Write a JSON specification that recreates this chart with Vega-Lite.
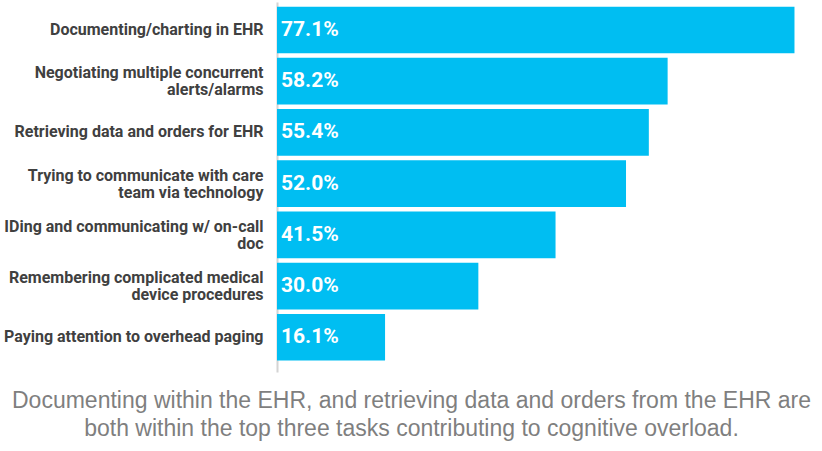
{
  "$schema": "https://vega.github.io/schema/vega-lite/v6.json",
  "autosize": "none",
  "width": 545,
  "height": 370,
  "padding": {"left": 277, "top": 2, "right": 0, "bottom": 79},
  "background": "white",
  "data": {
    "values": [
      {"task": "Documenting/charting in EHR", "pct": 0.771},
      {"task": "Negotiating multiple concurrent|alerts/alarms", "pct": 0.582},
      {"task": "Retrieving data and orders for EHR", "pct": 0.554},
      {"task": "Trying to communicate with care|team via technology", "pct": 0.520},
      {"task": "IDing and communicating w/ on-call|doc", "pct": 0.415},
      {"task": "Remembering complicated medical|device procedures", "pct": 0.300},
      {"task": "Paying attention to overhead paging", "pct": 0.161}
    ]
  },
  "title": {
    "text": ["Documenting within the EHR, and retrieving data and orders from the EHR are", "both within the top three tasks contributing to cognitive overload."],
    "orient": "bottom",
    "anchor": "middle",
    "frame": "group",
    "dx": -138,
    "font": "Liberation Sans",
    "fontSize": 23,
    "fontWeight": "normal",
    "color": "#7f7f7f",
    "lineHeight": 28,
    "offset": 18,
    "baseline": "top"
  },
  "encoding": {
    "y": {
      "field": "task",
      "type": "nominal",
      "sort": null,
      "scale": {"paddingInner": 0.088, "paddingOuter": 0.157, "align": 0.29},
      "axis": {
        "title": null,
        "ticks": false,
        "domain": true,
        "domainColor": "#d4d4d4",
        "domainWidth": 2,
        "labelExpr": "split(datum.value, '|')",
        "labelFont": "Roboto",
        "labelFontWeight": "bold",
        "labelFontSize": 16,
        "labelColor": "#404040",
        "labelLineHeight": 17,
        "labelPadding": 14,
        "labelLimit": 300,
        "labelOffset": {"condition": {"test": "indexof(datum.value, '|') >= 0", "value": -8}, "value": 0}
      }
    },
    "x": {
      "field": "pct",
      "type": "quantitative",
      "scale": {"domain": [0, 0.812], "nice": false, "zero": true},
      "axis": null
    }
  },
  "layer": [
    {"mark": {"type": "bar", "color": "#00BEF2"}},
    {
      "mark": {"type": "text", "align": "left", "baseline": "middle", "dx": 4, "dy": 0, "font": "Roboto", "fontWeight": "bold", "fontSize": 21, "color": "white"},
      "encoding": {
        "x": {"datum": 0, "type": "quantitative"},
        "text": {"field": "pct", "type": "quantitative", "format": ".1%"}
      }
    }
  ],
  "config": {"view": {"stroke": null}}
}
